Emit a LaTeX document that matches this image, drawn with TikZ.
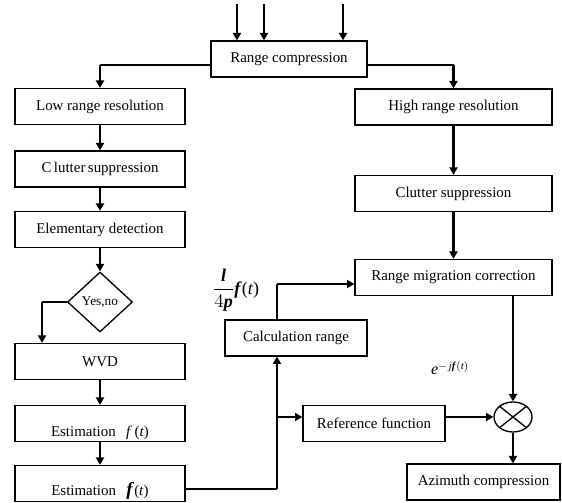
\documentclass[tikz,border=0pt]{standalone}
\usepackage{amsmath}
\usepackage{fontspec}
\setmainfont{Liberation Serif}
\usetikzlibrary{arrows.meta, shapes.geometric}

\begin{document}
\begin{tikzpicture}[x=0.75pt, y=-0.75pt,
  block/.style={draw, line width=1pt, minimum height=27pt, inner sep=2pt,
                font=\fontsize{11.2}{13}\selectfont},
  leftblock/.style={block, minimum width=127.5pt},
  rightblock/.style={block, minimum width=147.75pt},
  midblock/.style={block, minimum width=106.5pt},
  lowtext/.style={text height=#1, text depth=0pt},
  decision/.style={diamond, draw, line width=1pt, minimum width=48.75pt,
                   minimum height=45pt, inner sep=0pt, font=\fontsize{10}{12}\selectfont},
  mixer/.style={ellipse, draw, line width=1pt, minimum width=28.5pt,
                minimum height=22.5pt, inner sep=0pt},
  flow/.style={line width=2pt, -{Triangle[length=5.5pt, width=6pt]}},
  link/.style={line width=0.8pt},
  formula/.style={font=\fontsize{13.5}{15}\selectfont},
]
\useasboundingbox (0,0) rectangle (562,503);

\node[block, minimum width=117pt] (rc) at (289, 59) {Range compression};

\node[leftblock] (low) at (100, 106.5) {Low range resolution};
\node[leftblock] (clut1) at (100, 169) {C\,lutter\,suppression};
\node[leftblock] (elem) at (100, 229.5) {Elementary detection};
\node[decision] (dec) at (100, 302) {Yes,no};
\node[leftblock] (wvd) at (100, 361.5) {WVD};
\node[leftblock, lowtext=20.25pt] (est1) at (100, 423.5)
  {Estimation\hspace{0.7em}\textit{f}\,(\textit{t})};
\node[leftblock, lowtext=18.75pt] (est2) at (100, 483.5)
  {Estimation\hspace{0.7em}{\fontsize{14}{16}\selectfont\textbf{\textit{f}}}(\textit{t})};

\node[midblock] (calc) at (296, 338) {Calculation range};
\node[midblock] (ref) at (374, 423.5) {Reference function};

\node[rightblock] (high) at (453.5, 107) {High range resolution};
\node[rightblock] (clut2) at (453.5, 193.5) {Clutter suppression};
\node[rightblock] (rmc) at (453.5, 277.5) {Range migration correction};
\node[mixer] (mult) at (513, 417) {};
\node[block, minimum width=114.75pt] (az) at (483.5, 482) {Azimuth compression};

\node[formula] (scale) at (236, 290)
  {$\dfrac{\textbf{\textit{l}}}{4\textbf{\textit{p}}}$\textbf{\textit{f}}(\textit{t})};
\node[font=\fontsize{12}{14}\selectfont] (phase) at (450, 368)
  {$\textit{e}^{-\,\textit{j}\textbf{\textit{f}}(\textit{t})}$};

\draw[line width=1pt] (mult.north west) -- (mult.south east);
\draw[line width=1pt] (mult.north east) -- (mult.south west);

\coordinate (in1) at (237, 4);
\coordinate (in2) at (264, 4);
\coordinate (in3) at (343, 4);
\draw[flow] (in1) -- (in1 |- rc.north);
\draw[flow] (in2) -- (in2 |- rc.north);
\draw[flow] (in3) -- (in3 |- rc.north);

\coordinate (kL) at (100, 65);
\draw[link] (kL -| rc.west) -- (kL);
\draw[flow] (kL) -- (low);
\coordinate (kR) at (453.5, 65);
\draw[link] (kR -| rc.east) -- (kR);
\draw[flow] (kR) -- (high);

\draw[flow] (low) -- (clut1);
\draw[flow] (clut1) -- (elem);
\draw[flow] (elem) -- (dec);
\coordinate (kD) at (42, 302);
\draw[link] (dec.west) -- (kD);
\draw[flow] (kD) -- (kD |- wvd.north);
\draw[flow] (wvd) -- (est1);
\draw[flow] (est1) -- (est2);

\coordinate (kE) at (277, 489);
\coordinate (kS) at (277, 417);
\coordinate (kC) at (277, 284);
\draw[link] (kE -| est2.east) -- (kE);
\draw[flow] (kE) -- (kE |- calc.south);
\draw[flow] (kS) -- (kS -| ref.west);
\draw[link] (kC |- calc.north) -- (kC);
\draw[flow] (kC) -- (kC -| rmc.west);

\draw[flow] (high) -- (clut2);
\draw[flow] (clut2) -- (rmc);
\draw[flow] (rmc.south -| mult) -- (mult);
\draw[flow] (ref.east |- mult) -- (mult);
\draw[flow] (mult) -- (mult |- az.north);

\end{tikzpicture}
\end{document}
